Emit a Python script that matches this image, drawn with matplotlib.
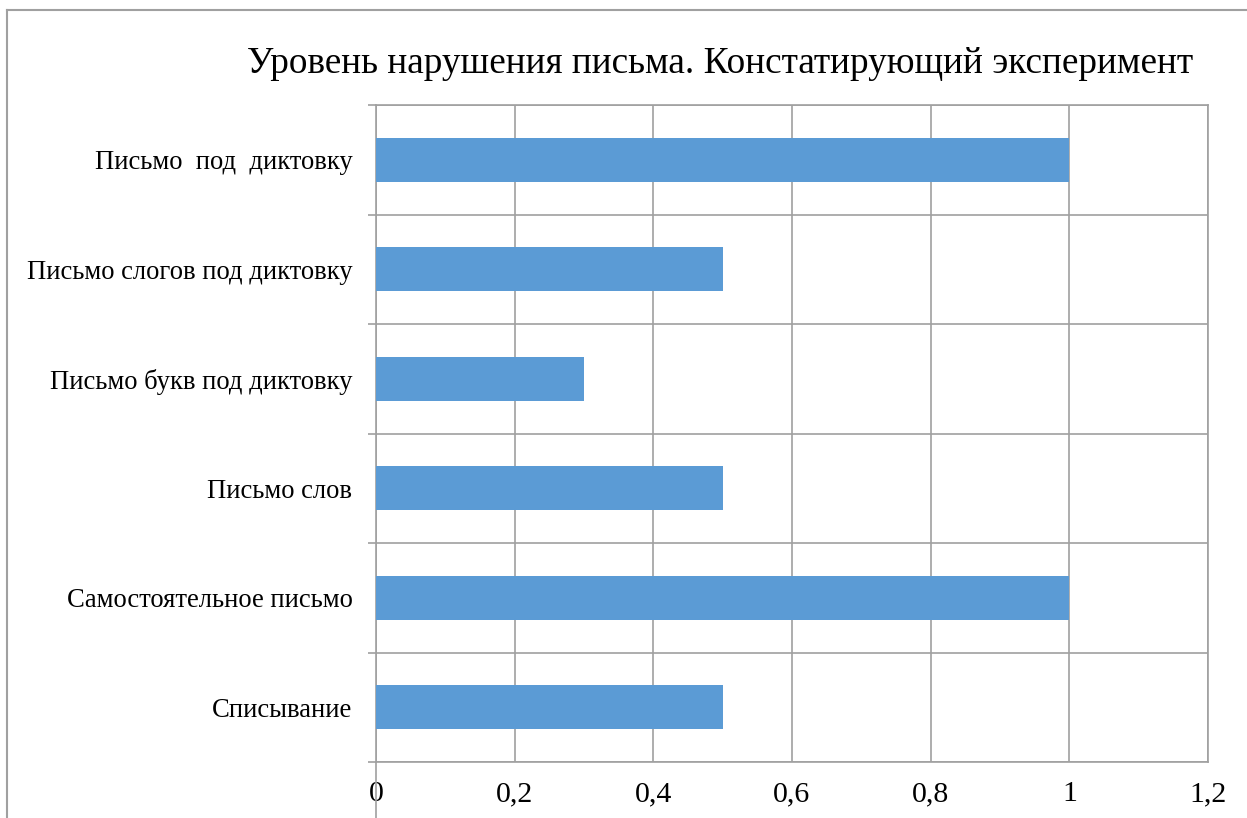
import matplotlib.pyplot as plt
from matplotlib.lines import Line2D

# data (bottom to top as drawn)
categories = ["Списывание", "Самостоятельное письмо", "Письмо слов",
              "Письмо букв под диктовку", "Письмо слогов под диктовку",
              "Письмо  под  диктовку"]
values = [0.5, 1.0, 0.5, 0.3, 0.5, 1.0]
xticks = [0, 0.2, 0.4, 0.6, 0.8, 1.0, 1.2]
xtick_labels = ["0", "0,2", "0,4", "0,6", "0,8", "1", "1,2"]
title = "Уровень нарушения письма. Констатирующий эксперимент"

plt.rcParams['font.family'] = ['Liberation Serif', 'DejaVu Serif']
grid_col = "#a0a0a0"
bar_col = "#5b9bd5"

fig = plt.figure(figsize=(12.47, 8.18), dpi=100)
ax = fig.add_axes([376/1247, 1 - 762/818, (1208 - 376)/1247, (762 - 105)/818])

ypos = list(range(len(categories)))
ax.barh(ypos, values, height=0.4, color=bar_col, zorder=3)

ax.set_xlim(0, 1.2)
ax.set_ylim(-0.5, len(categories) - 0.5)
ax.set_xticks(xticks)
ax.set_xticklabels(xtick_labels, fontsize=21.5)
ax.set_yticks(ypos)
ax.set_yticklabels(categories, fontsize=19.2)
ax.set_yticks([y - 0.5 for y in range(len(categories) + 1)], minor=True)

ax.tick_params(axis='x', length=0, pad=14)
ax.tick_params(axis='y', which='major', length=0, pad=17)
ax.tick_params(axis='y', which='minor', length=6, width=1.2, color=grid_col, direction='out')

ax.grid(axis='x', color=grid_col, linewidth=1.2, zorder=0)
ax.grid(axis='y', which='minor', color=grid_col, linewidth=1.2, zorder=0)
for s in ax.spines.values():
    s.set_color(grid_col)
    s.set_linewidth(1.2)

# vertical axis line continuing below the category axis
ax.add_line(Line2D([0, 0], [0, -0.085], transform=ax.transAxes,
                   color=grid_col, linewidth=1.2, clip_on=False))

fig.text(720/1247, 1 - 64/818, title, fontsize=26.8, ha='center', va='center')

# chart-area border (cropped at right and bottom)
fig.add_artist(Line2D([7/1247, 7/1247], [0, 1 - 10/818], transform=fig.transFigure,
                      color=grid_col, linewidth=1.5))
fig.add_artist(Line2D([7/1247, 1], [1 - 10/818, 1 - 10/818], transform=fig.transFigure,
                      color=grid_col, linewidth=1.5))

fig.savefig("out.png", dpi=100, facecolor="white")
